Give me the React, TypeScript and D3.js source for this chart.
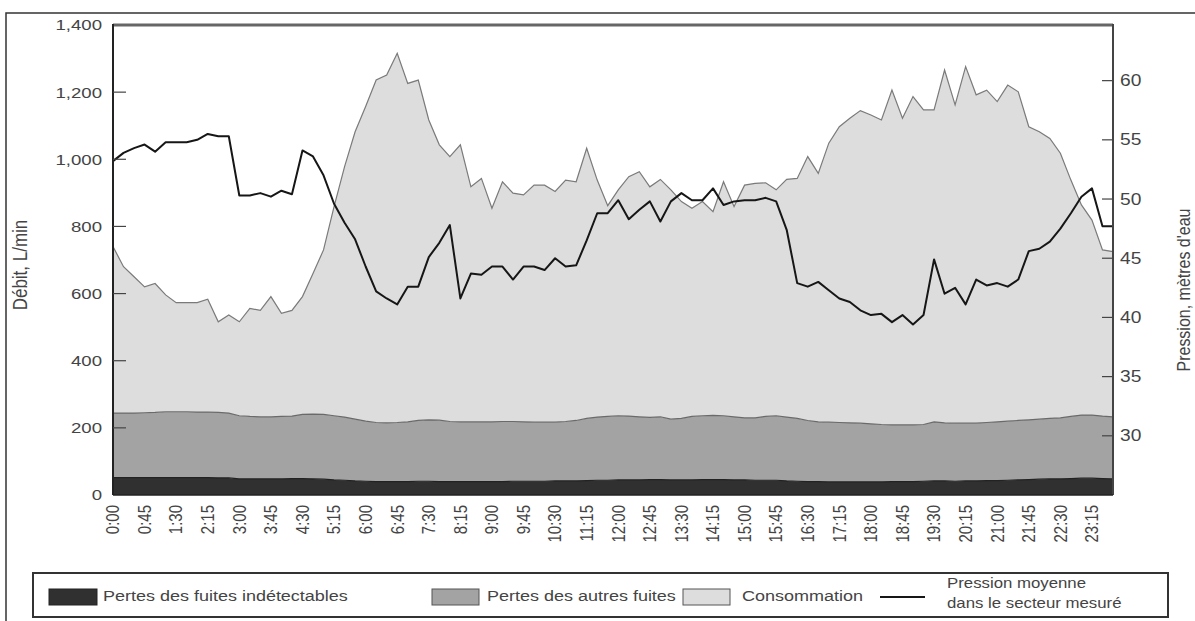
import React from "react";
import * as d3 from "d3";

const tickLabels = ["0:00","0:45","1:30","2:15","3:00","3:45","4:30","5:15","6:00","6:45","7:30","8:15","9:00","9:45","10:30","11:15","12:00","12:45","13:30","14:15","15:00","15:45","16:30","17:15","18:00","18:45","19:30","20:15","21:00","21:45","22:30","23:15"];

const times = d3.range(96).map((i) => `${Math.floor(i / 4)}:${String((i % 4) * 15).padStart(2, "0")}`);

const undetectable = [
  52,52,52,52,52,52,52,52,52,52,51,51,
  48,48,48,48,48,49,49,48,47,
  45,44,42,41,40,40,40,
  40,41,41,40,40,40,40,40,40,40,41,41,41,41,42,42,42,
  43,44,44,45,45,45,46,46,45,45,45,46,46,46,45,45,44,44,44,
  42,41,40,40,39,39,39,39,39,39,40,40,40,41,42,42,41,
  42,42,43,43,44,45,46,47,48,48,49,50,50,49,48,
];

const otherLeaks = [
  192,192,192,193,194,196,196,196,195,195,195,193,
  188,186,185,185,186,186,191,193,193,
  191,188,184,179,176,175,176,
  178,181,183,183,179,178,178,178,178,179,178,177,176,176,175,177,180,
  185,188,190,191,190,188,185,187,181,183,189,190,191,190,188,185,186,190,192,
  190,187,182,178,178,177,176,175,173,171,169,169,169,169,176,173,173,
  172,172,173,175,176,177,178,179,180,182,185,188,188,186,185,
];

const consumption = [
  496,436,406,375,384,348,325,325,326,336,270,292,
  280,322,317,358,307,315,351,419,490,
  623,746,856,937,1020,1036,1100,
  1008,1014,893,820,789,825,700,725,636,714,680,676,706,706,687,719,711,
  805,706,628,673,713,730,687,707,683,646,620,638,607,697,626,693,698,696,673,
  708,715,786,740,831,881,907,931,920,907,997,913,978,937,929,1051,948,
  1062,978,990,954,1001,979,873,856,834,788,704,626,581,495,492,
];

const pressure = [
  53.2,53.9,54.3,54.6,54.0,54.8,54.8,54.8,55.0,55.5,55.3,55.3,
  50.3,50.3,50.5,50.2,50.7,50.4,54.1,53.6,52.0,
  49.6,48.0,46.6,44.3,42.2,41.6,41.1,
  42.6,42.6,45.1,46.3,47.8,41.6,43.7,43.6,44.3,44.3,43.2,44.3,44.3,44.0,45.0,44.3,44.4,
  46.5,48.8,48.8,49.9,48.3,49.1,49.8,48.1,49.8,50.5,49.9,49.9,50.9,49.5,49.8,49.9,49.9,50.1,49.8,
  47.4,42.9,42.6,43.0,42.3,41.6,41.3,40.6,40.2,40.3,39.6,40.2,39.4,40.2,44.9,42.0,42.5,
  41.1,43.2,42.7,42.9,42.6,43.2,45.6,45.8,46.4,47.5,48.8,50.2,50.9,47.7,47.7,
];

const leftTicks = [0, 200, 400, 600, 800, 1000, 1200, 1400];
const rightTicks = [30, 35, 40, 45, 50, 55, 60];

const seriesKeys = ["undetectable", "otherLeaks", "consumption"];
const legendLabels = ["Pertes des fuites indétectables", "Pertes des autres fuites", "Consommation"];
const pressureLabel = ["Pression moyenne", "dans le secteur mesuré"];
const leftTitle = "Débit, L/min";
const rightTitle = "Pression, mètres d'eau";

const FONT = "'Liberation Sans', Arial, Helvetica, sans-serif";
const SX = 1.2;
const TXT = "#444";

const L = 113, R = 1113, TOP = 25, BOT = 495;

function T({ x, y, rot = 0, anchor = "start", size = 15, fill = TXT, dy = "0", children }: any) {
  return (
    <text
      transform={`translate(${x},${y}) scale(${SX},1) rotate(${rot})`}
      textAnchor={anchor}
      fontSize={size}
      fontFamily={FONT}
      fill={fill}
      dy={dy}
    >
      {children}
    </text>
  );
}

export default function App() {
  const rows = times.map((t, i) => ({
    time: t,
    undetectable: undetectable[i],
    otherLeaks: otherLeaks[i],
    consumption: consumption[i],
    pressure: pressure[i],
  }));

  const x = d3.scalePoint<string>().domain(times).range([L, R]);
  const yL = d3.scaleLinear().domain([0, 1400]).range([BOT, TOP]);
  const yR = d3.scaleLinear().domain([25, 64.7]).range([BOT, TOP]);

  const stacked = d3.stack<any>().keys(seriesKeys)(rows);
  const area = d3
    .area<any>()
    .x((d) => x(d.data.time)!)
    .y0((d) => yL(d[0]))
    .y1((d) => yL(d[1]));
  const topLine = d3
    .line<any>()
    .x((d) => x(d.data.time)!)
    .y((d) => yL(d[1]));
  const pLine = d3
    .line<any>()
    .x((d) => x(d.time)!)
    .y((d) => yR(d.pressure));

  const fills = ["#303030", "#a3a3a3", "#dddddd"];
  const edges = ["#222222", "#6a6a6a", "#7a7a7a"];

  return (
    <svg
      width={1195}
      height={621}
      style={{ position: "absolute", left: 0, top: 0, background: "#fff" }}
    >
      <rect x={0} y={0} width={1195} height={621} fill="#fff" />
      <rect x={6} y={13} width={1200} height={640} fill="none" stroke="#333" strokeWidth={1.5} />

      {stacked.map((s, i) => (
        <path key={s.key} d={area(s)!} fill={fills[i]} />
      ))}
      {stacked.map((s, i) => (
        <path key={"e" + s.key} d={topLine(s)!} fill="none" stroke={edges[i]} strokeWidth={1.2} />
      ))}

      <path d={pLine(rows)!} fill="none" stroke="#161616" strokeWidth={2} strokeLinejoin="round" />

      <line x1={L} x2={R} y1={TOP} y2={TOP} stroke="#666" strokeWidth={3} />
      <line x1={L} x2={L} y1={TOP - 1} y2={BOT} stroke="#222" strokeWidth={2} />
      <line x1={R} x2={R} y1={TOP - 1} y2={BOT} stroke="#444" strokeWidth={2} />
      <line x1={L} x2={R} y1={BOT} y2={BOT} stroke="#222" strokeWidth={1.5} />

      {leftTicks.map((t) => (
        <g key={"l" + t}>
          {t > 0 && t < 1400 && (
            <line x1={L} x2={L + 13} y1={yL(t)} y2={yL(t)} stroke="#444" strokeWidth={1.2} />
          )}
          <T x={102} y={yL(t)} anchor="end" size={15.5} dy="0.35em">
            {d3.format(",")(t)}
          </T>
        </g>
      ))}

      {rightTicks.map((t) => (
        <g key={"r" + t}>
          <line x1={R - 11} x2={R} y1={yR(t)} y2={yR(t)} stroke="#444" strokeWidth={1.2} />
          <T x={1120} y={yR(t)} anchor="start" size={16} dy="0.35em">
            {t}
          </T>
        </g>
      ))}

      {tickLabels.map((lab) => (
        <T key={lab} x={x(lab)!} y={505} rot={-90} anchor="end" size={15} dy="0.35em">
          {lab}
        </T>
      ))}

      <T x={27} y={265} rot={-90} anchor="middle" size={17}>
        {leftTitle}
      </T>
      <T x={1190} y={290} rot={-90} anchor="middle" size={16}>
        {rightTitle}
      </T>

      <rect x={33} y={573} width={1135} height={44} fill="none" stroke="#333" strokeWidth={2} />
      <rect x={49} y={589} width={48} height={16} fill={fills[0]} stroke="#222" />
      <T x={103} y={601} size={15}>{legendLabels[0]}</T>
      <rect x={432} y={589} width={47} height={16} fill={fills[1]} stroke="#555" />
      <T x={487} y={601} size={15}>{legendLabels[1]}</T>
      <rect x={683} y={589} width={47} height={16} fill={fills[2]} stroke="#555" />
      <T x={742} y={601} size={15}>{legendLabels[2]}</T>
      <line x1={880} x2={925} y1={597} y2={597} stroke="#161616" strokeWidth={2} />
      <T x={947} y={588} size={14}>{pressureLabel[0]}</T>
      <T x={947} y={608} size={14}>{pressureLabel[1]}</T>
    </svg>
  );
}
